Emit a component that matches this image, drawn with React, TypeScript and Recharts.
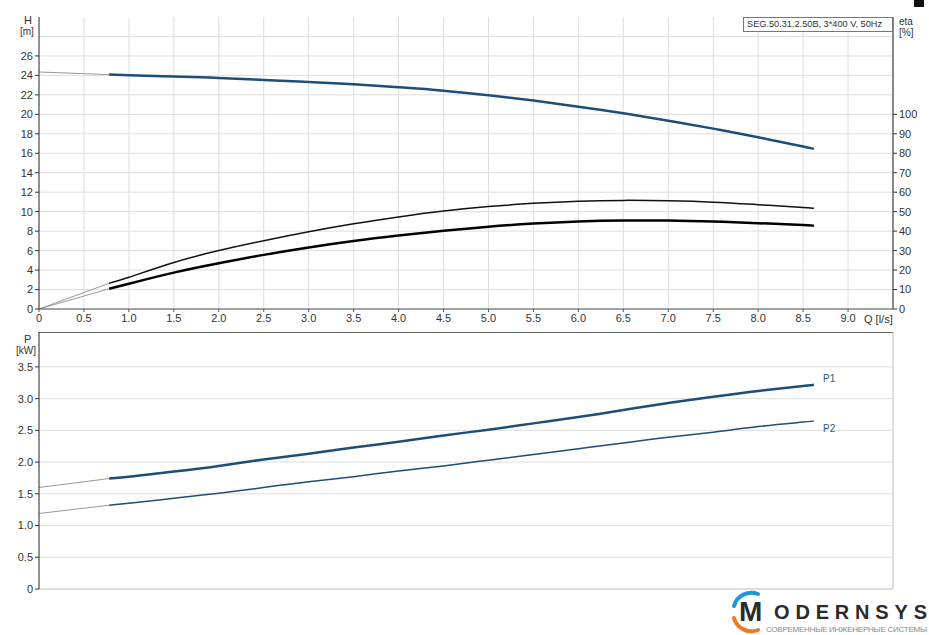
import React from 'react';
import { LineChart, Line, XAxis, YAxis, CartesianGrid, ReferenceLine } from 'recharts';

// Q axis ticks [l/s]
const qTicks = [0, 0.5, 1, 1.5, 2, 2.5, 3, 3.5, 4, 4.5, 5, 5.5, 6, 6.5, 7, 7.5, 8, 8.5, 9];
const hTicks = [0, 2, 4, 6, 8, 10, 12, 14, 16, 18, 20, 22, 24, 26];
const hGrid = [0, 2, 4, 6, 8, 10, 12, 14, 16, 18, 20, 22, 24, 26, 28];
const etaTicks = [0, 10, 20, 30, 40, 50, 60, 70, 80, 90, 100];
const pTicks = [0, 0.5, 1, 1.5, 2, 2.5, 3, 3.5];

// operating range of the curves
const qRange = [0.78, 1, 1.5, 2, 2.5, 3, 3.5, 4, 4.5, 5, 5.5, 6, 6.5, 7, 7.5, 8, 8.5, 8.62];
const hValues = [24.08, 24.02, 23.88, 23.74, 23.53, 23.33, 23.09, 22.78, 22.43, 21.96, 21.41, 20.79, 20.11, 19.35, 18.53, 17.64, 16.7, 16.45];
const etaTotal = [13.2, 16.3, 23.9, 30.0, 35.1, 39.7, 43.8, 47.3, 50.3, 52.6, 54.3, 55.4, 55.8, 55.6, 54.9, 53.6, 52.2, 51.8];
const etaPump = [10.4, 13.0, 18.7, 23.5, 27.8, 31.6, 34.9, 37.7, 40.2, 42.3, 43.9, 45.0, 45.5, 45.4, 44.9, 44.1, 43.1, 42.8];
const p1Values = [1.74, 1.77, 1.85, 1.94, 2.04, 2.13, 2.23, 2.32, 2.42, 2.51, 2.61, 2.71, 2.82, 2.93, 3.03, 3.12, 3.2, 3.22];
const p2Values = [1.32, 1.35, 1.43, 1.51, 1.6, 1.69, 1.77, 1.86, 1.94, 2.03, 2.12, 2.21, 2.3, 2.39, 2.47, 2.56, 2.63, 2.65];

// thin extensions towards Q = 0
const qExt = [0, 0.78];
const hExt = [24.35, 24.08];
const etaTotalExt = [0, 13.2];
const etaPumpExt = [0, 10.4];
const p1Ext = [1.6, 1.74];
const p2Ext = [1.19, 1.32];

const toRows = (qs: number[], vs: number[]) => qs.map((q, i) => ({ q, v: vs[i] }));

const BLUE = '#1d4e7a';
const FONT = '"Liberation Sans", Arial, sans-serif';
const tickStyle = { fontSize: 11, fill: '#333', fontFamily: FONT };
const fmt = (v: number) => (v === 0 ? '0' : v.toFixed(1));

const txt = (left: number, top: number, s: string, extra: React.CSSProperties = {}) => (
  <div style={{ position: 'absolute', left, top, fontSize: 10, fontFamily: FONT, color: '#333', lineHeight: '11px', whiteSpace: 'nowrap', ...extra }}>
    {s}
  </div>
);

export default function App() {
  return (
    <div style={{ position: 'absolute', left: 0, top: 0, width: 929, height: 635, background: '#fff', overflow: 'hidden' }}>
      <div style={{ position: 'absolute', left: 0, top: 0 }}>
        <LineChart width={929} height={330} margin={{ top: 17, right: 0, bottom: 0, left: 0 }}>
          <CartesianGrid yAxisId="h" stroke="#dedede" horizontalValues={hGrid} />
          <XAxis
            dataKey="q"
            type="number"
            domain={[0, 9.5]}
            ticks={qTicks}
            allowDataOverflow
            height={21}
            tickFormatter={fmt}
            tick={tickStyle}
            tickSize={3}
            axisLine={{ stroke: '#555' }}
            tickLine={{ stroke: '#555' }}
            interval={0}
          />
          <YAxis
            yAxisId="h"
            width={39}
            domain={[0, 30]}
            ticks={hTicks}
            tick={tickStyle}
            tickSize={4}
            axisLine={{ stroke: '#333' }}
            tickLine={{ stroke: '#333' }}
            interval={0}
          />
          <YAxis
            yAxisId="eta"
            orientation="right"
            width={36}
            domain={[0, 150]}
            ticks={etaTicks}
            tick={tickStyle}
            tickSize={4}
            axisLine={{ stroke: '#888', strokeWidth: 2 }}
            tickLine={{ stroke: '#333' }}
            interval={0}
          />
          <Line yAxisId="h" data={toRows(qExt, hExt)} dataKey="v" type="linear" stroke="#999" strokeWidth={1} dot={false} isAnimationActive={false} />
          <Line yAxisId="eta" data={toRows(qExt, etaTotalExt)} dataKey="v" type="linear" stroke="#999" strokeWidth={1} dot={false} isAnimationActive={false} />
          <Line yAxisId="eta" data={toRows(qExt, etaPumpExt)} dataKey="v" type="linear" stroke="#999" strokeWidth={1} dot={false} isAnimationActive={false} />
          <Line yAxisId="h" data={toRows(qRange, hValues)} dataKey="v" type="natural" stroke={BLUE} strokeWidth={2.5} dot={false} isAnimationActive={false} />
          <Line yAxisId="eta" data={toRows(qRange, etaTotal)} dataKey="v" type="natural" stroke="#111" strokeWidth={1.5} dot={false} isAnimationActive={false} />
          <Line yAxisId="eta" data={toRows(qRange, etaPump)} dataKey="v" type="natural" stroke="#000" strokeWidth={2.5} dot={false} isAnimationActive={false} />
        </LineChart>
      </div>

      <div style={{ position: 'absolute', left: 0, top: 332 }}>
        <LineChart width={929} height={272} margin={{ top: 0, right: 0, bottom: 14, left: 0 }}>
          <CartesianGrid yAxisId="p" stroke="#dedede" />
          <XAxis
            dataKey="q"
            type="number"
            domain={[0, 9.5]}
            ticks={qTicks}
            allowDataOverflow
            height={1}
            tick={false}
            tickLine={false}
            axisLine={{ stroke: '#ccc' }}
            interval={0}
          />
          <YAxis
            yAxisId="p"
            width={39}
            domain={[0, 4.05]}
            ticks={pTicks}
            allowDataOverflow
            tickFormatter={fmt}
            tick={tickStyle}
            tickSize={4}
            axisLine={{ stroke: '#333' }}
            tickLine={{ stroke: '#333' }}
            interval={0}
          />
          <YAxis yAxisId="r" orientation="right" width={36} domain={[0, 1]} tick={false} tickLine={false} axisLine={{ stroke: '#ccc' }} />
          <ReferenceLine yAxisId="p" y={4.05} stroke="#333" strokeWidth={1.5} ifOverflow="visible" />
          <Line yAxisId="p" data={toRows(qExt, p1Ext)} dataKey="v" type="linear" stroke="#999" strokeWidth={1} dot={false} isAnimationActive={false} />
          <Line yAxisId="p" data={toRows(qExt, p2Ext)} dataKey="v" type="linear" stroke="#999" strokeWidth={1} dot={false} isAnimationActive={false} />
          <Line yAxisId="p" data={toRows(qRange, p1Values)} dataKey="v" type="natural" stroke={BLUE} strokeWidth={2.5} dot={false} isAnimationActive={false} />
          <Line yAxisId="p" data={toRows(qRange, p2Values)} dataKey="v" type="natural" stroke={BLUE} strokeWidth={1.5} dot={false} isAnimationActive={false} />
        </LineChart>
      </div>

      {/* axis captions */}
      {txt(24, 15, 'H', { fontSize: 11 })}
      {txt(20, 26, '[m]')}
      {txt(899, 16, 'eta')}
      {txt(899, 27, '[%]')}
      {txt(864, 314, 'Q [l/s]', { fontSize: 11 })}
      {txt(24, 334, 'P', { fontSize: 11 })}
      {txt(16, 345, '[kW]')}
      {txt(823, 373, 'P1', { color: '#2a5a80' })}
      {txt(823, 423, 'P2', { color: '#2a5a80' })}

      {/* pump title box */}
      <div style={{ position: 'absolute', left: 743, top: 17, width: 150, height: 15, border: '1px solid #777', boxSizing: 'border-box', background: '#fff', fontSize: 9.2, fontFamily: FONT, color: '#333', lineHeight: '13px', paddingLeft: 3, whiteSpace: 'nowrap' }}>
        SEG.50.31.2.50B, 3*400 V, 50Hz
      </div>

      <div style={{ position: 'absolute', left: 914, top: 0, width: 10, height: 7, background: '#111' }} />

      {/* logo */}
      <svg style={{ position: 'absolute', left: 728, top: 590 }} width={201} height={45}>
        <path d="M 30 4 A 18 18 0 0 0 6 16" fill="none" stroke="#1c9ad6" strokeWidth={4} strokeLinecap="round" />
        <path d="M 6 28 A 18 18 0 0 0 30 40" fill="none" stroke="#f07a2a" strokeWidth={4} strokeLinecap="round" />
        <text x={11} y={31} fontFamily={FONT} fontWeight="bold" fontSize={28} fill="#2b2b2b">M</text>
        <text x={46} y={29} fontFamily={FONT} fontWeight="bold" fontSize={20} fill="#2b2b2b" textLength={153} lengthAdjust="spacing">ODERNSYS</text>
        <text x={38} y={42} fontFamily={FONT} fontSize={8} fill="#8a8a8a" textLength={161} lengthAdjust="spacing">СОВРЕМЕННЫЕ ИНЖЕНЕРНЫЕ СИСТЕМЫ</text>
      </svg>
    </div>
  );
}
